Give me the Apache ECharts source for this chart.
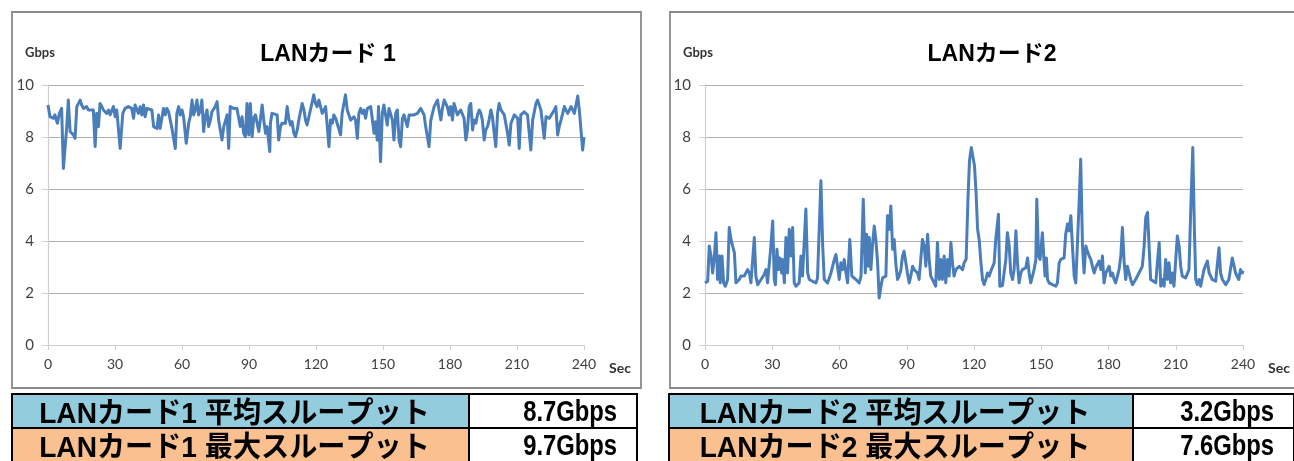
<!DOCTYPE html>
<html>
<head>
<meta charset="utf-8">
<script src="https://cdn.jsdelivr.net/npm/echarts@6/dist/echarts.min.js"></script>
<style>
html,body{margin:0;padding:0;background:#fff;}
#c{width:1294px;height:461px;}
</style>
</head>
<body>
<div id="c"></div>
<script>
// ---- data ----
const chartTitles = ['LANカード 1', 'LANカード2'];
const yUnit = 'Gbps';
const xUnit = 'Sec';
const xTicks = [0, 30, 60, 90, 120, 150, 180, 210, 240];
const yTicks = [0, 2, 4, 6, 8, 10];

const card1Sec = [0,0.9,2.4,3.1,4.2,5.1,6.1,6.9,8.4,9.1,9.9,11.4,12.1,12.9,14.4,15.1,15.9,17.3,18.1,18.8,20.3,21.1,21.8,22.6,23.3,24.1,24.8,26.3,27.1,27.8,29.3,30.1,30.8,31.6,32.3,33.5,34.5,36.0,37.5,38.3,39.0,39.8,40.5,41.3,42.0,42.8,43.5,44.3,45.0,46.5,47.3,48.0,48.8,49.5,50.2,51.0,51.7,52.5,53.2,54.0,55.5,56.2,57.0,57.7,58.5,59.2,60.0,60.7,61.9,63.0,63.7,64.5,65.2,65.9,66.7,67.4,68.2,68.9,69.7,70.4,71.2,71.9,72.7,73.4,74.2,74.9,75.7,76.4,77.9,78.7,80.2,80.9,81.6,83.1,84.6,85.4,86.1,86.9,87.6,88.4,89.1,89.9,90.6,91.4,92.1,92.9,94.4,95.9,96.6,97.4,98.1,99.3,99.6,100.3,101.1,102.6,103.3,104.1,104.8,106.3,107.1,107.8,108.6,109.3,110.1,110.8,111.6,112.3,113.8,114.6,115.3,116.0,117.5,119.0,119.8,120.5,121.3,122.8,123.5,124.3,125.8,126.5,127.3,128.0,128.8,129.5,131.0,131.7,133.2,134.0,135.5,137.0,137.7,138.5,139.2,140.0,140.7,141.5,142.2,143.0,143.7,144.5,146.0,146.7,147.4,148.0,148.9,149.7,150.4,151.9,152.7,153.4,154.2,154.9,155.7,156.4,157.2,157.9,158.7,159.4,160.2,160.9,161.7,162.4,163.9,164.6,165.4,166.9,168.4,169.1,170.6,171.4,172.9,174.4,175.1,175.9,176.6,177.4,178.1,178.8,179.6,180.3,181.1,181.8,182.6,183.3,184.8,186.3,187.1,187.8,188.6,189.3,190.1,190.8,191.6,192.3,193.1,193.8,194.5,195.3,196.0,196.8,197.5,198.3,199.0,199.8,200.5,201.3,202.0,202.8,204.3,205.8,206.5,207.3,208.8,210.3,211.0,211.7,213.2,214.7,216.2,217.0,218.5,219.2,220.7,222.2,223.0,223.7,224.5,225.2,226.7,227.4,228.2,228.9,229.7,231.2,231.9,232.7,234.2,235.7,237.2,237.9,239.4,240.0];
const card1Gbps = [9.23,8.78,8.72,8.85,8.53,8.91,9.10,6.79,8.40,9.42,8.21,8.08,7.95,9.17,9.42,9.23,9.10,9.17,9.04,8.97,9.04,7.63,8.91,8.40,9.29,9.17,9.04,8.91,9.04,8.85,9.17,8.78,9.04,9.10,7.56,8.91,9.10,9.17,9.10,8.72,9.23,9.29,8.91,9.17,8.85,9.23,8.78,9.10,9.17,9.04,8.40,8.46,8.33,8.85,8.33,8.72,9.10,8.85,9.10,8.97,8.33,8.27,7.56,8.91,9.17,8.85,9.04,8.78,7.76,8.53,8.78,9.42,8.85,9.04,9.42,8.85,9.04,9.42,8.21,8.78,9.04,8.40,8.65,8.97,8.91,9.17,9.36,8.65,7.88,8.40,8.85,7.56,9.17,9.10,9.10,9.04,8.40,8.78,8.14,8.01,9.29,8.08,9.29,8.01,8.72,8.85,8.21,9.23,8.65,8.14,8.40,7.44,8.53,8.91,8.85,8.85,7.88,8.40,8.53,8.53,9.17,8.72,8.46,8.59,8.14,8.01,8.27,8.65,9.29,9.04,8.65,8.46,9.04,9.62,9.29,9.17,9.42,8.91,8.97,9.17,7.63,8.65,8.53,8.85,8.72,8.78,8.08,8.91,9.62,9.04,8.65,8.78,8.65,7.95,8.91,9.10,8.91,9.04,8.72,9.10,9.04,9.17,8.14,8.59,7.88,9.17,7.05,8.91,9.23,8.46,9.10,9.04,8.65,7.88,8.91,9.04,7.88,7.63,8.72,8.85,8.85,8.40,8.85,8.91,8.85,8.78,8.91,9.10,8.85,8.40,7.63,8.65,9.17,9.42,9.04,8.65,9.10,9.42,9.42,9.17,8.85,9.17,8.65,9.29,9.29,8.85,9.04,8.72,7.88,8.27,9.17,9.29,8.27,8.65,8.53,8.85,9.04,8.91,8.65,7.88,8.27,8.40,8.65,9.04,8.78,8.14,7.63,8.91,9.29,9.04,8.85,8.14,7.69,8.53,8.85,8.72,7.56,8.85,8.97,8.85,7.50,8.65,9.29,9.42,9.04,7.95,8.78,8.78,8.72,8.65,9.04,9.17,8.08,8.40,8.65,9.17,9.04,8.91,9.17,8.91,9.58,9.04,7.50,8.00];

const card2Sec = [0,1.2,1.9,2.7,3.4,4.2,4.9,5.6,6.4,6.8,7.6,8.3,9.1,10.1,10.8,11.6,12.3,13.1,13.8,15.3,16.0,17.5,18.3,19.0,19.8,20.5,21.2,22.0,22.7,23.5,25.0,26.4,27.2,27.9,29.4,30.2,30.9,31.4,32.1,32.8,33.4,34.2,34.6,35.4,36.1,36.8,37.6,38.3,39.1,39.8,40.6,42.0,42.8,43.5,45.0,45.8,46.5,48.0,49.5,50.2,51.7,52.5,53.2,54.7,56.2,57.7,58.4,59.9,60.6,61.4,62.1,62.9,63.6,64.6,65.5,67.3,68.8,69.6,70.6,71.5,72.1,72.8,73.3,74.0,74.7,75.5,76.2,77.0,77.7,78.5,79.2,80.0,80.7,81.4,82.2,82.9,83.7,84.4,85.1,85.9,86.6,87.4,88.1,88.8,89.6,90.3,91.1,91.8,92.6,93.3,94.1,94.8,95.5,97.0,97.8,98.5,99.3,100.0,100.7,102.2,102.9,103.7,104.5,105.2,105.9,106.7,107.4,108.2,108.9,109.7,110.4,111.1,111.9,113.4,114.2,114.9,115.6,116.5,117.3,118.0,118.8,119.5,120.2,120.9,121.6,122.3,123.1,123.8,124.5,125.3,126.0,126.8,127.5,128.3,129.0,129.7,130.9,131.5,132.0,132.7,133.5,134.2,134.9,135.7,136.4,137.2,137.9,138.7,139.4,140.1,140.9,141.6,143.1,143.9,144.6,145.3,146.1,146.8,147.6,148.0,148.8,149.5,150.5,151.3,151.7,152.3,152.8,153.5,155.0,156.5,157.2,158.0,158.7,160.2,160.9,161.7,162.4,163.2,163.9,164.7,165.4,166.1,166.9,167.6,168.4,169.1,169.9,170.6,171.4,172.1,172.8,173.6,174.3,175.8,176.6,177.3,178.0,178.8,180.3,181.0,181.8,182.5,183.2,184.7,185.5,186.2,187.0,187.7,188.4,189.2,189.9,190.7,192.1,193.6,195.1,195.9,196.6,197.4,198.1,198.8,199.6,201.1,201.8,202.6,203.3,204.0,204.8,205.5,206.3,207.0,207.7,208.5,209.2,210.7,211.5,212.2,212.9,214.4,215.2,215.9,216.8,217.6,218.3,218.9,219.6,220.4,221.1,222.6,224.1,224.9,226.3,227.8,229.3,230.0,230.8,232.3,233.7,235.2,236.7,238.1,238.9,239.7,240.0];
const card2Gbps = [2.39,2.45,3.81,3.42,2.77,3.42,4.32,2.52,3.42,2.39,3.42,2.39,2.26,2.52,4.52,4.06,3.81,3.55,2.39,2.52,2.65,2.65,2.58,2.90,2.77,2.39,2.32,4.13,2.65,2.32,2.52,2.71,2.90,2.39,3.81,4.77,2.52,2.32,3.68,2.90,3.35,2.77,3.29,2.39,4.13,2.77,4.45,3.42,4.52,2.39,2.26,2.39,3.42,2.65,5.23,2.77,2.52,2.45,2.39,2.58,6.32,3.81,2.52,2.39,2.77,3.29,3.48,2.52,3.16,2.90,3.29,2.77,2.39,4.06,2.65,2.52,2.39,2.65,5.61,2.77,4.26,3.03,4.13,2.90,3.81,4.58,4.06,3.16,1.81,2.26,2.58,2.52,2.65,4.97,4.45,5.35,3.68,4.06,3.16,2.52,2.65,2.90,3.42,3.61,3.16,2.77,2.39,2.65,3.03,2.90,2.97,2.77,2.52,4.06,3.81,3.03,4.26,3.29,2.65,2.39,2.26,3.94,2.52,3.29,2.52,3.42,2.39,3.29,2.65,3.94,3.16,2.65,2.90,3.03,2.97,2.90,3.16,3.30,5.60,7.10,7.60,7.60,6.90,5.90,4.45,4.06,3.16,2.52,2.32,2.52,2.77,2.65,2.84,2.90,3.16,4.06,5.03,2.26,2.26,2.29,2.32,3.29,4.32,3.81,2.77,2.52,2.90,4.39,3.16,2.39,2.77,2.90,2.97,3.35,2.77,2.39,2.65,2.90,3.29,5.61,3.42,3.29,4.32,3.16,2.65,3.35,2.52,2.39,2.32,2.26,2.39,3.16,3.29,3.35,4.26,4.65,4.39,4.97,3.81,2.65,2.39,3.81,5.50,7.14,3.81,2.77,3.81,3.61,3.42,3.29,3.03,2.77,2.97,3.23,2.90,3.42,2.39,2.77,3.03,2.65,2.77,2.52,2.39,2.90,3.42,4.52,3.16,2.52,3.03,3.03,2.52,2.32,2.52,2.77,3.03,3.81,4.90,5.10,3.81,2.52,2.52,2.39,3.16,3.94,2.26,2.52,2.26,3.29,2.52,3.16,2.39,2.77,2.26,4.19,3.81,3.03,2.65,2.58,2.65,2.90,5.50,7.60,4.50,2.52,2.32,2.52,2.26,2.90,3.23,2.77,2.52,2.45,3.74,2.77,2.52,2.32,2.52,3.35,2.77,2.52,2.90,2.77,2.85];

const tableLabels1 = ['LANカード1 平均スループット', 'LANカード1 最大スループット'];
const tableValues1 = ['8.7Gbps', '9.7Gbps'];
const tableLabels2 = ['LANカード2 平均スループット', 'LANカード2 最大スループット'];
const tableValues2 = ['3.2Gbps', '7.6Gbps'];

// ---- chart ----
const pairs = (xs, ys) => xs.map((x, i) => [x, ys[i]]);
const axisFont = 'Lato, "Open Sans", sans-serif';
const jpFont = '"Liberation Sans", "Noto Sans CJK JP", sans-serif';
const lineColor = '#4a7ebb';

function xAxisFor(gi) {
  return {
    type: 'value', gridIndex: gi,
    min: xTicks[0], max: xTicks[xTicks.length - 1], interval: xTicks[1] - xTicks[0],
    axisLine: {show: true, lineStyle: {color: '#cfcfcf', width: 1.2}},
    axisTick: {show: true, length: 5, inside: false, lineStyle: {color: '#cfcfcf'}},
    splitLine: {show: false},
    axisLabel: {color: '#404040', fontSize: 14, fontFamily: axisFont, margin: 12}
  };
}
function yAxisFor(gi) {
  return {
    type: 'value', gridIndex: gi,
    min: yTicks[0], max: yTicks[yTicks.length - 1], interval: yTicks[1] - yTicks[0],
    axisLine: {show: true, lineStyle: {color: '#cfcfcf', width: 1.2}},
    axisTick: {show: true, length: 6, lineStyle: {color: '#cfcfcf'}},
    splitLine: {show: true, lineStyle: {color: '#b0b0b0', width: 1.2}},
    axisLabel: {color: '#404040', fontSize: 15, fontFamily: axisFont, margin: 14}
  };
}

function tableGraphics(x0, xDiv, x1, labels, values) {
  const rows = [[394, 428], [428, 470]];
  const fills = ['#93cddd', '#fac090'];
  const g = [];
  rows.forEach((r, i) => {
    g.push({type: 'rect', shape: {x: x0, y: r[0], width: xDiv - x0, height: r[1] - r[0]},
      style: {fill: fills[i], stroke: '#000', lineWidth: 2}, z: 1});
    g.push({type: 'rect', shape: {x: xDiv, y: r[0], width: x1 - xDiv, height: r[1] - r[0]},
      style: {fill: '#fff', stroke: '#000', lineWidth: 2}, z: 1});
    g.push({type: 'text', z: 2, x: (x0 + xDiv) / 2 - 6, y: r[0] + 21, scaleX: 0.97,
      style: {text: labels[i], x: 0, y: 0,
      align: 'center', verticalAlign: 'middle', fill: '#000',
      font: 'bold 29px ' + jpFont}});
    g.push({type: 'text', z: 2, x: x1 - 20, y: r[0] + 19, scaleX: 0.82,
      style: {text: values[i], x: 0, y: 0,
      align: 'right', verticalAlign: 'middle', fill: '#000',
      font: 'bold 29px "Liberation Sans", sans-serif'}});
  });
  return g;
}

const graphics = [
  {type: 'rect', shape: {x: 12, y: 12, width: 629, height: 376}, style: {fill: 'none', stroke: '#8a8a8a', lineWidth: 1.8}, z: 0},
  {type: 'rect', shape: {x: 670, y: 12, width: 640, height: 376}, style: {fill: 'none', stroke: '#8a8a8a', lineWidth: 1.8}, z: 0},
  {type: 'text', style: {text: chartTitles[0], x: 328, y: 55, align: 'center', verticalAlign: 'middle', fill: '#000', font: 'bold 23px ' + jpFont}},
  {type: 'text', style: {text: chartTitles[1], x: 992, y: 55, align: 'center', verticalAlign: 'middle', fill: '#000', font: 'bold 23px ' + jpFont}},
  {type: 'text', style: {text: yUnit, x: 25, y: 53, align: 'left', verticalAlign: 'middle', fill: '#333', font: 'bold 13px ' + axisFont}},
  {type: 'text', style: {text: yUnit, x: 683, y: 53, align: 'left', verticalAlign: 'middle', fill: '#333', font: 'bold 13px ' + axisFont}},
  {type: 'text', style: {text: xUnit, x: 609, y: 368, align: 'left', verticalAlign: 'middle', fill: '#333', font: 'bold 14px ' + axisFont}},
  {type: 'text', style: {text: xUnit, x: 1268, y: 368, align: 'left', verticalAlign: 'middle', fill: '#333', font: 'bold 14px ' + axisFont}}
].concat(tableGraphics(12, 469, 637, tableLabels1, tableValues1))
 .concat(tableGraphics(669, 1133, 1294, tableLabels2, tableValues2));

const chart = echarts.init(document.getElementById('c'), null, {renderer: 'canvas'});
chart.setOption({
  animation: false,
  backgroundColor: '#fff',
  grid: [
    {left: 48, top: 85, width: 536, height: 260},
    {left: 705, top: 85, width: 538, height: 260}
  ],
  xAxis: [xAxisFor(0), xAxisFor(1)],
  yAxis: [yAxisFor(0), yAxisFor(1)],
  series: [
    {type: 'line', xAxisIndex: 0, yAxisIndex: 0, data: pairs(card1Sec, card1Gbps), showSymbol: false,
     lineStyle: {color: lineColor, width: 3, join: 'round'}, itemStyle: {color: lineColor}},
    {type: 'line', xAxisIndex: 1, yAxisIndex: 1, data: pairs(card2Sec, card2Gbps), showSymbol: false,
     lineStyle: {color: lineColor, width: 3, join: 'round'}, itemStyle: {color: lineColor}}
  ],
  graphic: graphics
});
</script>
</body>
</html>
